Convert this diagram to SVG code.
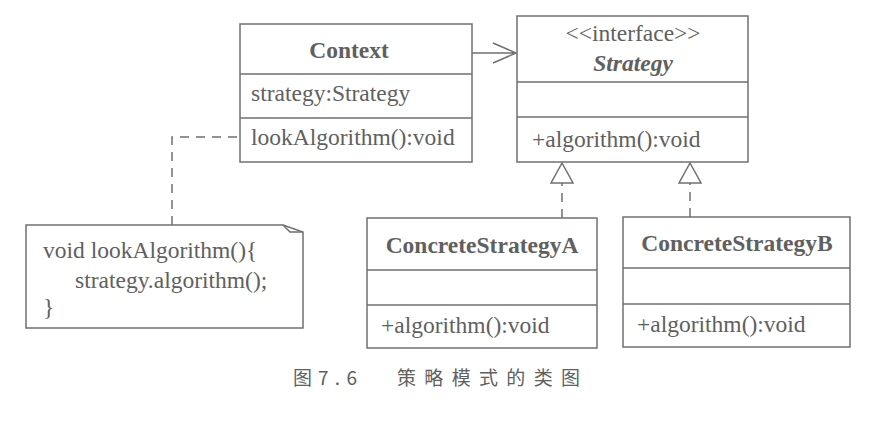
<svg xmlns="http://www.w3.org/2000/svg" width="873" height="426" viewBox="0 0 873 426">
<style>
.box{fill:#fff;stroke:#707070;stroke-width:1.5}
.ln{stroke:#707070;stroke-width:1.5;fill:none}
.dash{stroke:#707070;stroke-width:1.5;fill:none;stroke-dasharray:9,7}
.t{font-family:"Liberation Serif",serif;font-size:23.5px;fill:#606060}
.b{font-weight:bold}
.c{text-anchor:middle}
.cap{font-family:"Noto Sans CJK SC",sans-serif;font-size:19px;fill:#606060}
</style>
<rect width="873" height="426" fill="#fff"/>
<g id="connectors">
<path class="ln" d="M472 53 H516 M493 43 L516 53 L493 63"/>
<path class="dash" d="M172 225 V137 H240"/>
<path class="dash" d="M562 218 V183"/>
<path class="ln" d="M562 163 L551 183 H573 Z" fill="#fff"/>
<path class="dash" d="M690 217 V183"/>
<path class="ln" d="M690 163 L679 183 H701 Z" fill="#fff"/>
</g>
<g id="context">
<rect class="box" x="240" y="24" width="232" height="138"/>
<path class="ln" d="M240 74 H472 M240 118 H472"/>
<text class="t b c" x="349" y="58">Context</text>
<text class="t" x="251" y="101">strategy:Strategy</text>
<text class="t" x="251" y="145">lookAlgorithm():void</text>
</g>
<g id="strategy">
<rect class="box" x="517" y="16" width="231" height="146"/>
<path class="ln" d="M517 82 H748 M517 117 H748"/>
<text class="t c" x="633" y="41">&lt;&lt;interface&gt;&gt;</text>
<text class="t b c" x="633" y="71" font-style="italic">Strategy</text>
<text class="t" x="532" y="147">+algorithm():void</text>
</g>
<g id="concreteA">
<rect class="box" x="367" y="218" width="230" height="130"/>
<path class="ln" d="M367 270 H597 M367 305 H597"/>
<text class="t b c" x="482" y="253">ConcreteStrategyA</text>
<text class="t" x="381" y="333">+algorithm():void</text>
</g>
<g id="concreteB">
<rect class="box" x="623" y="217" width="227" height="130"/>
<path class="ln" d="M623 268 H850 M623 304 H850"/>
<text class="t b c" x="737" y="251">ConcreteStrategyB</text>
<text class="t" x="637" y="332">+algorithm():void</text>
</g>
<g id="note">
<path class="box" d="M26 225 H283 L303 232 V328 H26 Z"/>
<path class="ln" d="M283 225 L290 232 H303"/>
<text class="t" x="43" y="258">void lookAlgorithm(){</text>
<text class="t" x="75" y="288">strategy.algorithm();</text>
<text class="t" x="43" y="315">}</text>
</g>
<g id="caption">
<text class="cap" x="293" y="385">图</text>
<text class="cap" x="318" y="385" textLength="39" font-family="Liberation Mono, monospace">7.6</text>
<text class="cap" x="397" y="385" textLength="183">策略模式的类图</text>
</g>
</svg>
